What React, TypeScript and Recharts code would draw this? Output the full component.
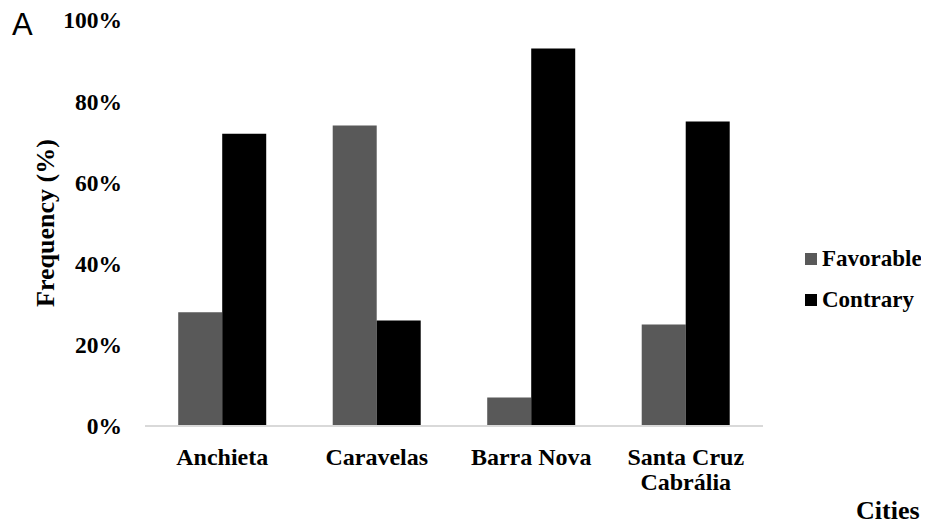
import React from 'react';
import { BarChart, Bar, XAxis, YAxis, Legend } from 'recharts';

const cities = ['Anchieta', 'Caravelas', 'Barra Nova', 'Santa Cruz Cabrália'];
const seriesNames = ['Favorable', 'Contrary'];
const favorable = [28, 74, 7, 25];
const contrary = [72, 26, 93, 75];
const yTicks = [0, 20, 40, 60, 80, 100];

const data = cities.map((c, i) => ({ city: c, Favorable: favorable[i], Contrary: contrary[i] }));

const FONT = 'Liberation Serif';
const base = { fontFamily: FONT, fontWeight: 700, fill: '#000' };
const xTickTxt = { ...base, fontSize: 24 };
const yTickTxt = { ...base, fontSize: 23.5 };
const labelTxt = { ...base, fontSize: 26 };

const wrapLabel = (s: string, maxChars: number) => {
  const words = s.split(' ');
  const lines: string[] = [];
  let cur = '';
  words.forEach((w) => {
    const next = cur ? cur + ' ' + w : w;
    if (next.length > maxChars && cur) {
      lines.push(cur);
      cur = w;
    } else {
      cur = next;
    }
  });
  if (cur) lines.push(cur);
  return lines;
};

const CityTick = (props: any) => {
  const { x, y, payload } = props;
  const lines = wrapLabel(String(payload.value), 12);
  return (
    <text x={x} y={y} textAnchor="middle" {...xTickTxt}>
      {lines.map((l, i) => (
        <tspan key={i} x={x} dy={i === 0 ? '0.71em' : 25}>
          {l}
        </tspan>
      ))}
    </text>
  );
};

const LegendContent = (props: any) => {
  const payload = [...(props.payload || [])].sort(
    (a: any, b: any) => seriesNames.indexOf(a.value) - seriesNames.indexOf(b.value)
  );
  return (
    <div style={{ display: 'flex', flexDirection: 'column' }}>
      {payload.map((p: any) => (
        <div
          key={p.value}
          style={{ display: 'flex', alignItems: 'center', height: 41, fontFamily: FONT, fontWeight: 700, fontSize: 23, color: '#000' }}
        >
          <span style={{ display: 'inline-block', width: 12, height: 12, background: p.color, marginRight: 5 }} />
          <span>{p.value}</span>
        </div>
      ))}
    </div>
  );
};

export default function App() {
  return (
    <div style={{ position: 'relative', margin: '-8px 0 0 -8px', width: 929, height: 524, background: '#fff' }}>
      <div style={{ position: 'absolute', left: 12, top: 9, lineHeight: '31px', fontFamily: 'Liberation Sans', fontSize: 31, color: '#000' }}>A</div>
      <BarChart
        width={929}
        height={524}
        data={data}
        margin={{ top: 20, right: 166, bottom: 38, left: 0 }}
        barCategoryGap="21.5%"
        barGap={0}
      >
        <XAxis
          dataKey="city"
          height={60}
          tickLine={false}
          tickSize={0}
          tickMargin={22}
          axisLine={{ stroke: '#d9d9d9', strokeWidth: 2 }}
          tick={<CityTick />}
          interval={0}
        />
        <YAxis
          width={145}
          domain={[0, 100]}
          ticks={yTicks}
          axisLine={false}
          tickLine={false}
          tickSize={0}
          tickMargin={23}
          tickFormatter={(v: number) => `${v}%`}
          tick={yTickTxt}
          label={{
            content: (p: any) => {
              const vb = p.viewBox;
              const cx = vb.x + 45;
              const cy = vb.y + vb.height / 2;
              return (
                <text x={cx} y={cy} transform={`rotate(-90, ${cx}, ${cy})`} textAnchor="middle" dominantBaseline="central" {...labelTxt}>
                  Frequency (%)
                </text>
              );
            },
          }}
        />
        <Legend
          layout="horizontal"
          verticalAlign="middle"
          align="center"
          content={<LegendContent />}
          wrapperStyle={{ left: 805, top: 238, width: 'auto' }}
        />
        <Bar dataKey="Favorable" fill="#595959" isAnimationActive={false} />
        <Bar dataKey="Contrary" fill="#000000" isAnimationActive={false} />
      </BarChart>
      <div style={{ position: 'absolute', left: 856, top: 498, lineHeight: '26px', fontFamily: FONT, fontWeight: 700, fontSize: 26, color: '#000' }}>Cities</div>
    </div>
  );
}
